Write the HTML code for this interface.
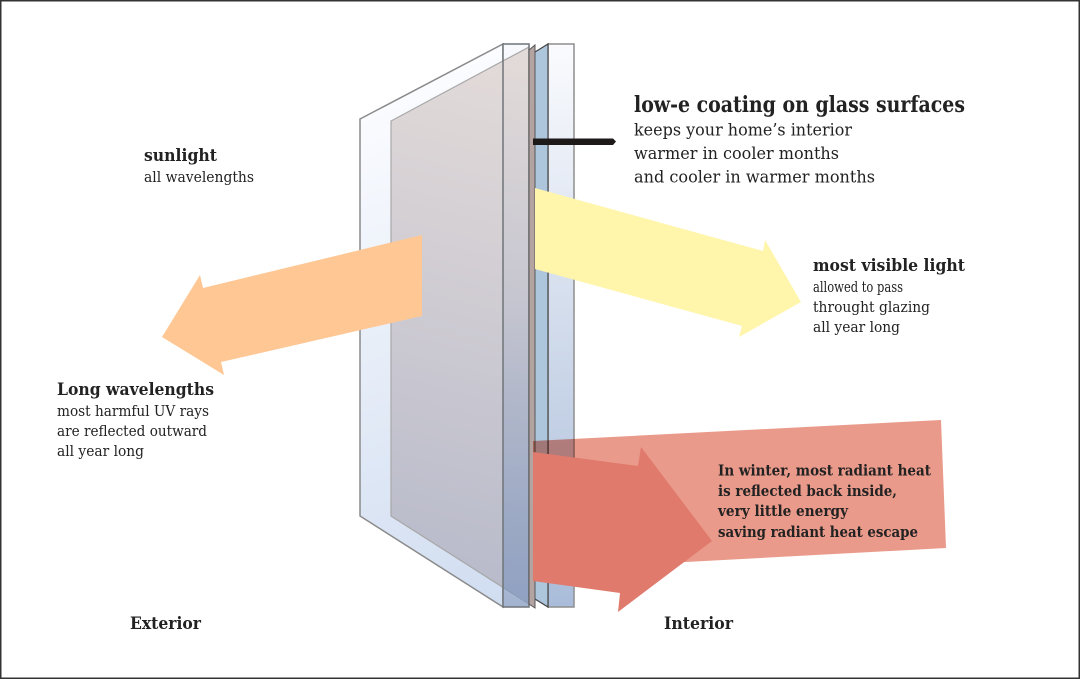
<!DOCTYPE html>
<html><head><meta charset="utf-8"><style>
html,body{margin:0;padding:0;background:#fff}
svg{display:block}
text{font-family:"DejaVu Serif","Liberation Serif",serif;fill:#222}
.b{font-weight:bold}
</style></head><body>
<svg width="1080" height="679" viewBox="0 0 1080 679" xmlns="http://www.w3.org/2000/svg">
<defs>
<linearGradient id="p1" gradientUnits="userSpaceOnUse" x1="360" y1="100" x2="560" y2="600"><stop offset="0" stop-color="#fbfcff"/><stop offset="1" stop-color="#cfdcf0"/></linearGradient>
<linearGradient id="p2" gradientUnits="userSpaceOnUse" x1="548" y1="44" x2="574" y2="607"><stop offset="0" stop-color="#fafbfe"/><stop offset="1" stop-color="#a9bcd9"/></linearGradient>
<linearGradient id="tint" gradientUnits="userSpaceOnUse" x1="530" y1="60" x2="400" y2="560"><stop offset="0" stop-color="#e3dbd9"/><stop offset="1" stop-color="#b9bbcb"/></linearGradient>
<linearGradient id="edge" gradientUnits="userSpaceOnUse" x1="516" y1="44" x2="516" y2="607"><stop offset="0" stop-color="#7f96bd" stop-opacity="0"/><stop offset="0.45" stop-color="#7f96bd" stop-opacity=".12"/><stop offset="1" stop-color="#7f96bd" stop-opacity=".7"/></linearGradient>
</defs>
<rect width="1080" height="679" fill="#fff"/>
<!-- rear pane -->
<rect x="548" y="44" width="26" height="563" fill="url(#p2)" stroke="#8e8e8e" stroke-width="1.500"/>
<polygon points="535,52 548,44 548,607 535,600" fill="#aec6dc"/>
<path d="M535,52 L548,44 V607 L535,599" fill="none" stroke="#444" stroke-width="1.200"/>
<!-- front pane -->
<polygon points="360,119 503,44 503,607 360,516" fill="url(#p1)" stroke="#8a8a8a" stroke-width="1.500"/>
<rect x="503" y="44" width="26" height="563" fill="#f7f9fd"/>
<!-- tint -->
<polygon points="391,121 529,47 529,604 391,516" fill="url(#tint)" stroke="#a8a8a8" stroke-width="1.200"/>
<rect x="503" y="44" width="26" height="563" fill="url(#edge)"/>
<rect x="503" y="44" width="26" height="563" fill="none" stroke="#6f7478" stroke-width="1.500"/>
<polygon points="529,50 535,45 535,608 529,604" fill="#b3a4a2" stroke="#555" stroke-width="1"/>
<!-- black pointer -->
<polygon points="533,138.500 613,138.500 616,141.500 613,145 533,145" fill="#1e1a1a"/>
<!-- orange arrow -->
<polygon points="422,235 203,288 200,275 162,337 224,375 221,362 422,316" fill="#fec794"/>
<!-- yellow arrow -->
<polygon points="535,188 763,251 765,240 801,302 739,337 742,326 535,269" fill="#fff5ab"/>
<!-- red back -->
<polygon points="533,441 941,420 946,548 686,562 533,560" fill="#ea9a8a" style="mix-blend-mode:multiply"/>
<!-- red front -->
<polygon points="533,452 638,466 641,447 712,541 618,612 620,593 533,581" fill="#e07a6d"/>
<!-- text -->
<text class="b" x="144" y="161" font-size="16.500" textLength="73" lengthAdjust="spacingAndGlyphs">sunlight</text>
<text x="144" y="182" font-size="14.500" textLength="110" lengthAdjust="spacingAndGlyphs">all wavelengths</text>
<text class="b" x="634" y="112" font-size="22.500" textLength="331" lengthAdjust="spacingAndGlyphs">low-e coating on glass surfaces</text>
<text x="634" y="135.500" font-size="16.500" textLength="218" lengthAdjust="spacingAndGlyphs">keeps your home’s interior</text>
<text x="634" y="159" font-size="16.500" textLength="205" lengthAdjust="spacingAndGlyphs">warmer in cooler months</text>
<text x="634" y="182.500" font-size="16.500" textLength="241" lengthAdjust="spacingAndGlyphs">and cooler in warmer months</text>
<text class="b" x="813" y="271" font-size="17" textLength="152" lengthAdjust="spacingAndGlyphs">most visible light</text>
<text x="813" y="292" font-size="14.500" textLength="90" lengthAdjust="spacingAndGlyphs">allowed to pass</text>
<text x="813" y="312" font-size="14.500" textLength="117" lengthAdjust="spacingAndGlyphs">throught glazing</text>
<text x="813" y="332" font-size="14.500" textLength="87" lengthAdjust="spacingAndGlyphs">all year long</text>
<text class="b" x="57" y="395" font-size="17" textLength="157" lengthAdjust="spacingAndGlyphs">Long wavelengths</text>
<text x="57" y="416" font-size="14.500" textLength="152" lengthAdjust="spacingAndGlyphs">most harmful UV rays</text>
<text x="57" y="436" font-size="14.500" textLength="150" lengthAdjust="spacingAndGlyphs">are reflected outward</text>
<text x="57" y="456" font-size="14.500" textLength="87" lengthAdjust="spacingAndGlyphs">all year long</text>
<text class="b" x="718" y="475.500" font-size="15" textLength="213" lengthAdjust="spacingAndGlyphs">In winter, most radiant heat</text>
<text class="b" x="718" y="496" font-size="15" textLength="179" lengthAdjust="spacingAndGlyphs">is reflected back inside,</text>
<text class="b" x="718" y="516" font-size="15" textLength="130" lengthAdjust="spacingAndGlyphs">very little energy</text>
<text class="b" x="718" y="537" font-size="15" textLength="200" lengthAdjust="spacingAndGlyphs">saving radiant heat escape</text>
<text class="b" x="130" y="629" font-size="16.500" textLength="71" lengthAdjust="spacingAndGlyphs">Exterior</text>
<text class="b" x="664" y="629" font-size="16.500" textLength="69" lengthAdjust="spacingAndGlyphs">Interior</text>
<rect x="0.750" y="0.750" width="1078.500" height="677.500" fill="none" stroke="#333" stroke-width="1.500"/>
</svg>
</body></html>
